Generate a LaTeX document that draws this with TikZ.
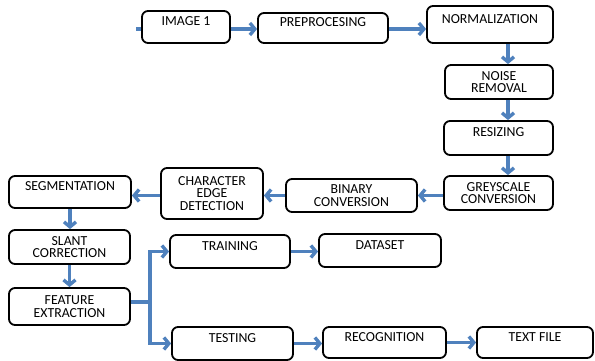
\documentclass[tikz,border=0pt]{standalone}
\usepackage{fontspec}
\setmainfont{Carlito}
\usetikzlibrary{arrows.meta}
\definecolor{flowblue}{RGB}{79,129,189}

\begin{document}
\begin{tikzpicture}[x=1pt,y=-1pt]
\tikzset{stage/.style = {shape=rectangle,draw,rounded corners=6pt,line width=1.8pt,align=center,inner sep=2pt,font=\fontsize{13.8}{12.5}\selectfont}}
\tikzset{oneline/.style = {text depth=11pt}}
\tikzset{edge/.style = {draw=flowblue,line width=3.4pt,-{Straight Barb[length=5pt,width=12pt]}}}

\useasboundingbox (0,0) rectangle (595,361);

% Recognition flow diagram
\node[stage,oneline,minimum width=88pt,minimum height=32pt] (img1) at (186,27) {IMAGE 1};
\node[stage,oneline,minimum width=130pt,minimum height=30pt] (pre) at (323,28) {PREPROCESING};
\node[stage,oneline,minimum width=126pt,minimum height=37pt] (norm) at (490,24.5) {NORMALIZATION};
\node[stage,minimum width=108pt,minimum height=34pt] (noise) at (499,82) {NOISE\\REMOVAL};
\node[stage,oneline,minimum width=109pt,minimum height=34pt] (resize) at (498.5,138) {RESIZING};
\node[stage,minimum width=109pt,minimum height=34pt] (grey) at (498.5,193) {GREYSCALE\\CONVERSION};
\node[stage,minimum width=131pt,minimum height=33pt] (binary) at (351.5,195.5) {BINARY\\CONVERSION};
\node[stage,minimum width=102pt,minimum height=51pt] (edgedet) at (212,193.5) {CHARACTER\\EDGE\\DETECTION};
\node[stage,oneline,minimum width=122pt,minimum height=32pt] (seg) at (70,192) {SEGMENTATION};
\node[stage,minimum width=121pt,minimum height=34pt] (slant) at (69.5,247) {SLANT\\CORRECTION};
\node[stage,minimum width=121pt,minimum height=37pt] (feat) at (69.5,306.5) {FEATURE\\EXTRACTION};
\node[stage,oneline,minimum width=120pt,minimum height=33pt] (train) at (230,251.5) {TRAINING};
\node[stage,oneline,minimum width=122pt,minimum height=33pt] (data) at (380,250.5) {DATASET};
\node[stage,oneline,minimum width=121pt,minimum height=33pt] (test) at (232.5,343.5) {TESTING};
\node[stage,oneline,minimum width=123pt,minimum height=31pt] (recog) at (384.5,342.5) {RECOGNITION};
\node[stage,oneline,minimum width=116pt,minimum height=31pt] (txt) at (535,342.5) {TEXT FILE};

\coordinate (in) at (136,29);
\coordinate (col) at (508,0);
\coordinate (split) at (150,302);

\draw[draw=flowblue,line width=3.4pt] (in) -- (img1.west |- in);
\draw[edge] (img1.east |- in) -- (pre.west |- in);
\draw[edge] (pre.east |- in) -- (norm.west |- in);
\draw[edge] (norm.south -| col) -- (noise.north -| col);
\draw[edge] (noise.south -| col) -- (resize.north -| col);
\draw[edge] (resize.south -| col) -- (grey.north -| col);
\draw[edge] (grey.west |- binary) -- (binary.east);
\draw[edge] (binary.west) -- (binary.west -| edgedet.east);
\draw[edge] (edgedet.west |- binary) -- (seg.east |- binary);
\draw[edge] (seg.south) -- (seg.south |- slant.north);
\draw[edge] (slant.south) -- (slant.south |- feat.north);
\draw[edge] (feat.east |- split) -- (split) |- (train.west);
\draw[edge] (split) |- (test.west);
\draw[edge] (train.east) -- (train.east -| data.west);
\draw[edge] (test.east) -- (test.east -| recog.west);
\draw[edge] (recog.east) -- (recog.east -| txt.west);

\end{tikzpicture}
\end{document}
